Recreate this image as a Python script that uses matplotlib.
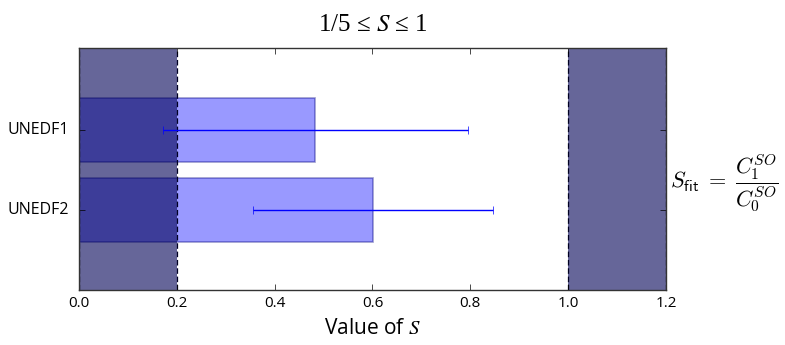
import matplotlib
matplotlib.use('Agg')
import matplotlib.pyplot as plt
import numpy as np

# data
labels = ['UNEDF1', 'UNEDF2']
s_values = [0.483, 0.601]
s_errors = [0.312, 0.245]
excluded = [(0.0, 0.2), (1.0, 1.2)]

plt.style.use('classic')
fig, ax = plt.subplots(figsize=(7.85, 3.45), dpi=100)
fig.subplots_adjust(left=0.1006, right=0.8484, top=0.861, bottom=0.159)

# bars, UNEDF1 on top
ypos = np.arange(len(labels))[::-1]
ax.barh(ypos, s_values, height=0.8, align='center', color='blue', alpha=0.4,
        edgecolor='navy', linewidth=1.2, zorder=1)

# excluded regions
for lo, hi in excluded:
    ax.axvspan(lo, hi, facecolor='#000055', alpha=0.6, linewidth=0, zorder=2)
    for xv in (lo, hi):
        ax.axvline(xv, color='#000022', linestyle='--', linewidth=0.9,
                   dashes=(4, 2), zorder=2.5)

ax.errorbar(s_values, ypos, xerr=s_errors, fmt='none', ecolor='blue',
            capsize=3, elinewidth=1, zorder=3)

ax.set_xlim(0, 1.2)
ax.set_ylim(-1, 2.03)
ax.set_yticks(ypos)
ax.set_yticklabels(labels, family='Open Sans', fontsize=11.5)
ax.set_xticks(np.arange(0, 1.21, 0.2))
ax.set_xticklabels(['%.1f' % v for v in np.arange(0, 1.21, 0.2)],
                   family='Open Sans', fontsize=11)
ax.tick_params(axis='y', pad=7)
for sp in ax.spines.values():
    sp.set_color('#333333')
    sp.set_zorder(4)

ax.set_title(r'1/5 ≤ $S$ ≤ 1', family='Liberation Serif', fontsize=18,
             math_fontfamily='stix', y=1.04)
ax.set_xlabel(r'Value of $\mathit{S}$', family='Open Sans', fontsize=15,
              math_fontfamily='stix', labelpad=5)
ax.text(1.006, 0.44, r'$S_{\mathsf{fit}}\;=\;\dfrac{C_1^{SO}}{C_0^{SO}}$',
        transform=ax.transAxes, fontsize=16, va='center', ha='left',
        math_fontfamily='cm')

plt.savefig('out.png', dpi=100)
